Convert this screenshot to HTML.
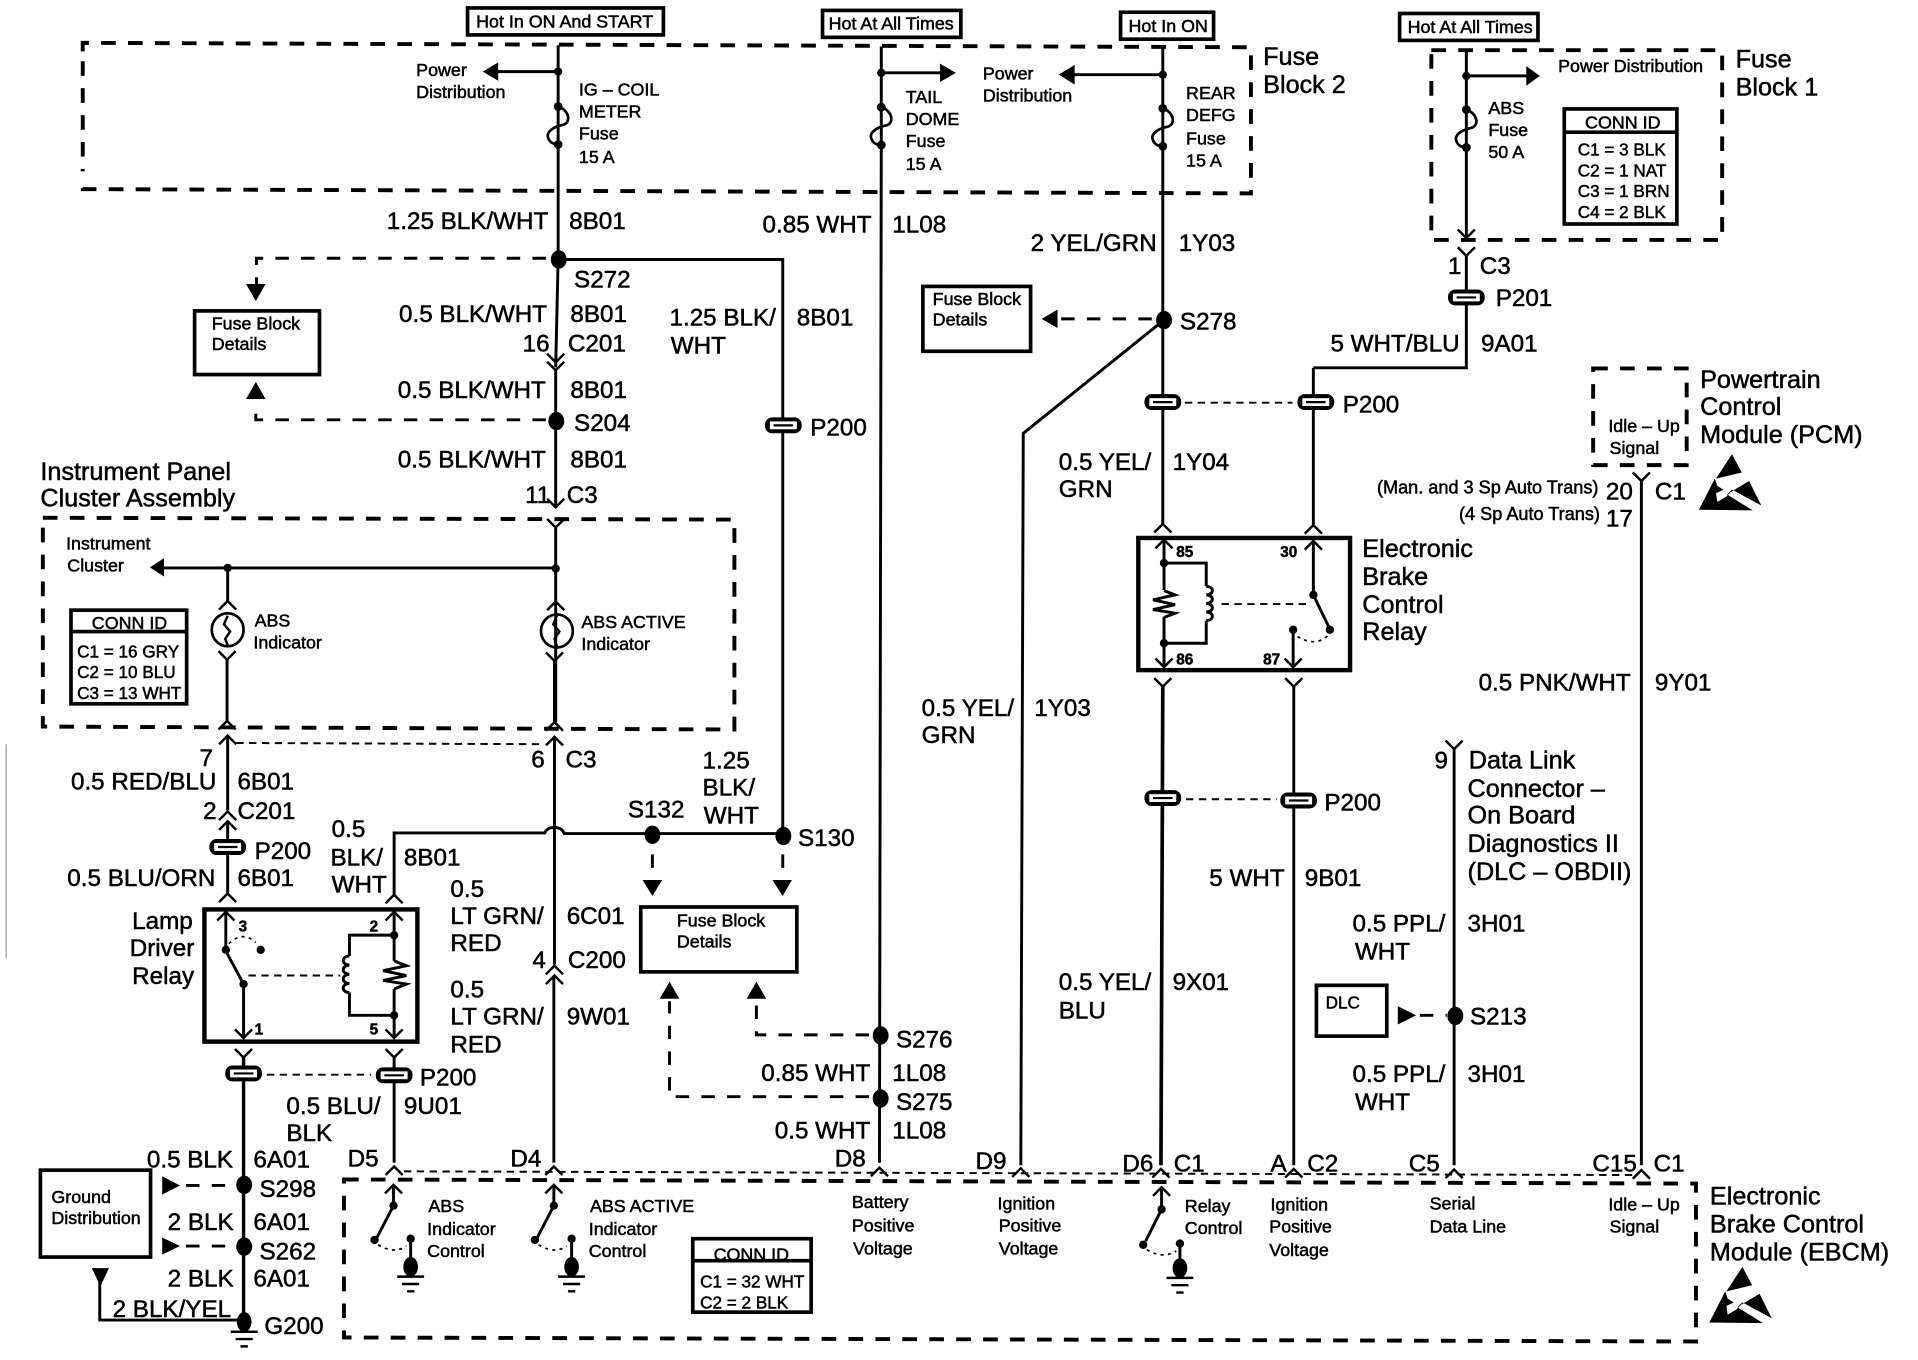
<!DOCTYPE html>
<html><head><meta charset="utf-8"><title>Wiring diagram</title>
<style>
html,body{margin:0;padding:0;background:#fff}
svg{display:block}
text{font-family:"Liberation Sans",sans-serif;fill:#000;stroke:#000;stroke-width:.42}
.b{font-size:19.8px}
.c{font-size:20.6px}
.s{font-size:14.6px}
.t{font-size:14px}
.p{font-size:14.8px}
.n{font-size:12.5px;font-weight:bold}
.w{fill:none;stroke:#000;stroke-width:2.4}
.th{fill:none;stroke:#000;stroke-width:2}
.d{fill:none;stroke:#000;stroke-width:3.2;stroke-dasharray:12 10}
.m{fill:none;stroke:#000;stroke-width:2.4;stroke-dasharray:11 10}
.f{fill:none;stroke:#000;stroke-width:1.6;stroke-dasharray:6 4.5}
.o{fill:none;stroke:#000;stroke-width:1.4;stroke-dasharray:2.5 3.5}
.k{fill:#000;stroke:none}
</style></head><body>
<svg xmlns="http://www.w3.org/2000/svg" width="1918" height="1360" viewBox="0 0 1567 1111.1">
<defs>
<path id="cd" d="M-7,-7 L0,0 L7,-7" fill="none" stroke="#000" stroke-width="2"/>
<path id="cu" d="M-7,7 L0,0 L7,7" fill="none" stroke="#000" stroke-width="2"/>
<ellipse id="sp" rx="6.5" ry="7.5" fill="#000"/>
<circle id="dt" r="3.4" fill="#000"/>
<g id="pl"><rect x="-15" y="-6.500" width="30" height="13" rx="6" fill="#000"/><rect x="-11" y="-3.200" width="22" height="6.400" fill="#fff"/><path d="M-8,0 H8" stroke="#000" stroke-width="1.800"/></g>
<g id="fz"><circle r="3.6" fill="#000"/><circle cy="31" r="3.6" fill="#000"/><path d="M0,0 C9,3 11,13 4,15 C-6,17 -10,22 -8,26 C-7,29 -4,31 0,31" fill="none" stroke="#000" stroke-width="2.2"/></g>
<g id="gd"><ellipse cy="0" rx="6" ry="8" fill="#000"/><path d="M-11,8 H11 M-7,14 H7 M-3,20 H3" stroke="#000" stroke-width="2"/></g>
<g id="esd"><path fill="#000" d="M1415,371 L1402,391 L1423,386 Z"/><path fill="#000" d="M1388,416.5 L1401,391 L1403,397 L1408,400 L1402,403 L1403,410 L1410,406 L1414,402 L1429,393 L1439,413 L1415,400 L1411,404 L1432,417 Z"/></g>
</defs>
<rect width="1567" height="1112" fill="#fff"/>
<path d="M5,608 V783" stroke="#888" stroke-width=".8" fill="none"/>

<!-- dashed boxes -->
<path class="d" d="M67.6,42 V35 L1022,38.6 V158 L67.6,154.5 V146"/>
<path class="d" d="M67.6,50 V140"/>
<path class="d" d="M1169.4,41 L1407,41 V196 H1169.4 Z"/>
<path class="d" d="M35,423 L600,424.5 V596 L35,593.6 Z"/>
<path class="d" d="M1301.6,301 H1378 V380 H1301.6 Z"/>
<path class="d" d="M281,963.6 L1385.6,967 V1096 L281,1092.7 Z"/>

<!-- top label boxes -->
<g fill="none" stroke="#000" stroke-width="3">
<rect x="382" y="6.500" width="160" height="22"/>
<rect x="672" y="8.500" width="113" height="22"/>
<rect x="915.500" y="10" width="76" height="22"/>
<rect x="1143.500" y="11" width="113" height="22"/>
<rect x="159" y="254" width="102" height="52"/>
<rect x="754" y="234" width="88" height="53"/>
<rect x="523.500" y="741" width="127.500" height="53"/>
<rect x="33" y="956" width="90" height="71"/>
<rect x="1075.500" y="805" width="57.500" height="41.500"/>
<rect x="1278" y="89" width="92" height="94"/>
<rect x="58" y="498.500" width="94.500" height="76.500"/>
<rect x="566" y="1012" width="96.700" height="60"/>
<path d="M1278,108 H1370 M58,516 H152 M566,1030 H662"/>
</g>
<g fill="none" stroke="#000" stroke-width="3.600">
<rect x="167" y="743" width="174" height="108"/>
<rect x="930" y="439.500" width="173" height="108"/>
</g>

<!-- wire 1 ignition -->
<path class="w" d="M456,37 V211 L454,300 M454,302 V414 M454,431 V590"/>
<path class="w" d="M456,58.500 H405"/><path class="k" d="M394.500,58.500 L407,51 V66 Z"/>
<use href="#dt" x="456" y="58.500"/><use href="#fz" x="456" y="87"/>
<path class="w" d="M456,212 H639.500 V680"/>
<use href="#sp" x="456.500" y="212"/><use href="#sp" x="454.500" y="344"/>
<use href="#cd" x="454" y="296"/><use href="#cd" x="454" y="302.500"/>
<use href="#cd" x="454" y="414.500"/><use href="#cd" x="454" y="431"/>
<use href="#pl" x="640" y="347.500"/>
<path class="m" d="M446,211 H209.500 V232"/><path class="k" d="M201,232 H217 L209,246 Z"/>
<path class="m" d="M446,343 H209 V335"/><path class="k" d="M209,312 L201,326 H217 Z"/>

<!-- tail -->
<path class="w" d="M720,38 V119 L718.500,950"/>
<path class="w" d="M720,59.500 H770"/><path class="k" d="M781,59.500 L768,52 V67 Z"/>
<use href="#dt" x="720" y="59.500"/><use href="#fz" x="720" y="87.500"/>
<use href="#sp" x="719.500" y="846"/><use href="#sp" x="719.500" y="897.500"/>
<use href="#cu" x="718.500" y="954"/>
<path class="m" d="M710,845.500 H618 V818"/><path class="k" d="M618,802 L610,816 H626 Z"/>
<path class="m" d="M710,896 H547 V818"/><path class="k" d="M547,802 L539,816 H555 Z"/>

<!-- rear defg -->
<path class="w" d="M950,39 V428"/>
<path class="w" d="M950,61 H875"/><path class="k" d="M865,61 L878,53 V69 Z"/>
<use href="#dt" x="950" y="61"/><use href="#fz" x="950" y="88.500"/>
<use href="#sp" x="951" y="261.500"/>
<path class="m" d="M941,260.500 H866"/><path class="k" d="M851,260.500 L864,253 V268 Z"/>
<path class="w" d="M949,263 L836,354 L834,952"/><use href="#cu" x="834" y="954.500"/>
<use href="#pl" x="950" y="328.500"/>
<use href="#cu" x="950" y="428"/>
<path class="f" d="M968,329 H1056"/>
<!-- EBC relay -->
<use href="#cu" x="951" y="441"/>
<path class="w" d="M951,441 V482 M951,504 V545"/>
<path class="w" d="M951,482.500 L960,486 L942,490 L960,494 L942,498 L960,501 L951,504.500"/>
<use href="#dt" x="951" y="460"/><use href="#dt" x="951" y="525.500"/>
<path class="w" d="M951,460 H985.500 V479 M985.500,507 V525.500 H951"/>
<path class="w" d="M985.500,479 a5,3.500 0 1 1 0,7 a5,3.500 0 1 1 0,7 a5,3.500 0 1 1 0,7 a5,3.500 0 1 1 0,7"/>
<use href="#cd" x="951" y="545"/>
<path class="f" d="M998,493.500 H1069"/>
<use href="#cu" x="1073" y="429"/><path class="w" d="M1073,300.500 V429"/>
<use href="#cu" x="1073" y="442"/><path class="w" d="M1073,442 V486 L1086.500,514"/>
<use href="#dt" x="1073" y="486"/><use href="#dt" x="1086.500" y="514.500"/><use href="#dt" x="1056.500" y="514.500"/>
<path class="o" d="M1060,520 Q1075,529 1085,519"/>
<path class="w" d="M1056.500,514 V545"/><use href="#cd" x="1056.500" y="545"/>
<use href="#cd" x="950" y="561"/><use href="#cd" x="1057" y="561"/>
<path class="w" style="stroke-width:3" d="M950,561 L948.500,952"/><use href="#cu" x="948.500" y="955"/>
<path class="w" d="M1057,561 V952"/><use href="#cu" x="1057" y="955"/>
<use href="#pl" x="950" y="652"/><use href="#pl" x="1061" y="654"/>
<path class="f" d="M969,653 H1043"/>

<!-- fuse block 1 -->
<path class="w" d="M1198,40 V194"/>
<path class="w" d="M1198,62 H1250"/><path class="k" d="M1258,62 L1247,54 V70 Z"/>
<use href="#dt" x="1198" y="62"/><use href="#fz" x="1198" y="89.500"/>
<use href="#cd" x="1198" y="194.500"/><use href="#cd" x="1198" y="209"/>
<path class="w" d="M1198,209 V300.500 H1073"/>
<use href="#pl" x="1198" y="243"/><use href="#pl" x="1075" y="328.500"/>

<!-- PCM line -->
<use href="#cd" x="1341" y="393"/><path class="w" d="M1341,393 V952"/><use href="#cu" x="1341" y="956"/>
<!-- DLC -->
<use href="#cd" x="1188" y="612"/><path class="w" d="M1188,612 V952"/><use href="#cu" x="1188" y="955.500"/>
<use href="#sp" x="1189" y="830"/>
<path class="k" d="M1142,822 L1157,829.500 L1142,837 Z"/><path class="m" d="M1160,829.500 H1182"/>

<!-- cluster -->
<path class="w" d="M454,464 H130"/><path class="k" d="M122.500,463.500 L134,456 V471 Z"/>
<use href="#dt" x="454" y="464.500"/><use href="#dt" x="186" y="464"/>
<path class="w" d="M186,464 V491"/><use href="#cu" x="186" y="491"/>
<ellipse cx="186" cy="514.500" rx="13" ry="13.500" fill="none" stroke="#000" stroke-width="2.200"/>
<path class="th" d="M186,503 L183,510 L188,516 L184,522 L186,527"/>
<path class="w" d="M185.500,539 V590"/><use href="#cd" x="185.500" y="539"/><use href="#cu" x="185.500" y="589"/>
<use href="#cu" x="454" y="491.500"/>
<ellipse cx="455" cy="515.500" rx="13" ry="13.500" fill="none" stroke="#000" stroke-width="2.200"/>
<path class="th" d="M455,503 L452,510 L457,516 L453,522 L455,528"/>
<path class="w" d="M453,540 V590"/><use href="#cd" x="453" y="540"/><use href="#cu" x="453" y="590"/>

<!-- below cluster -->
<use href="#cu" x="186" y="601"/><use href="#cu" x="453" y="602"/>
<path class="f" d="M193,607 L445,608"/>
<path class="w" d="M186,601 V662"/><use href="#cu" x="186" y="663"/>
<use href="#cu" x="186" y="671"/><path class="w" d="M186,671 V730"/><use href="#cu" x="186" y="730"/>
<use href="#pl" x="186" y="692"/>
<path class="w" d="M453,602 V788"/>
<path class="w" d="M322,731 V680.500 H445 Q447,676 453,676 Q459,676 461,681 H639"/>
<use href="#cu" x="322" y="731"/>
<use href="#sp" x="533" y="682"/><use href="#sp" x="640" y="683"/>
<use href="#cu" x="453" y="789"/><use href="#cu" x="453" y="797"/>
<path class="w" d="M452.500,797 V950"/><use href="#cu" x="452.500" y="953"/>
<path class="m" d="M533,698 V710"/><path class="k" d="M525,719 H541 L533,732 Z"/>
<path class="m" d="M639.500,698 V710"/><path class="k" d="M631,719 H647 L639.500,732 Z"/>

<!-- lamp relay -->
<use href="#cu" x="184.500" y="745"/><path class="w" d="M184.500,745 V777 L199,804"/>
<use href="#dt" x="184.500" y="776"/><use href="#dt" x="213" y="776"/><use href="#dt" x="199" y="804"/>
<path class="o" d="M187,771 Q198,760 209,770"/>
<path class="w" d="M199,804 V848"/><use href="#cd" x="199" y="848"/>
<use href="#cu" x="322" y="745"/><path class="w" d="M322,745 V785 M322,808 V848"/><use href="#cd" x="322" y="848"/>
<path class="w" d="M322,785 L332,789 L313,793 L332,797 L313,801 L332,804 L322,808"/>
<use href="#dt" x="322" y="764"/><use href="#dt" x="322" y="829.500"/>
<path class="w" d="M322,764 H285.500 V781 M285.500,811 V829.500 H322"/>
<path class="w" d="M285.500,781 a5,3.700 0 1 0 0,7.500 a5,3.700 0 1 0 0,7.500 a5,3.700 0 1 0 0,7.500 a5,3.700 0 1 0 0,7.500"/>
<path class="f" d="M203,797 H278"/>
<use href="#cd" x="199" y="864"/><use href="#cd" x="322" y="864"/>
<path class="w" style="stroke-width:2.800" d="M199,864 V1079"/>
<path class="w" d="M322,864 V950"/><use href="#cu" x="322" y="953"/>
<use href="#pl" x="199" y="877"/><use href="#pl" x="322" y="878.500"/>
<path class="f" d="M218,878 H303"/>
<use href="#sp" x="199.500" y="968"/><use href="#sp" x="199.500" y="1018.500"/>
<path class="k" d="M132.500,961 L147,968.500 L132.500,976 Z"/><path class="m" d="M152,968.500 H190"/>
<path class="k" d="M132.500,1011 L147,1018 L132.500,1025 Z"/><path class="m" d="M152,1018 H190"/>
<path class="k" d="M75,1036 H89 L82,1051 Z"/><path class="w" d="M81.500,1040 V1078.500 H199"/>
<use href="#gd" x="199.500" y="1080"/>

<!-- thin dashed over EBCM -->
<path class="f" d="M330,957 L1335,960"/>

<!-- EBCM switches -->
<use href="#cu" x="321.500" y="968"/><path class="w" d="M321.500,968 V985 L308,1011"/>
<use href="#dt" x="321.500" y="985"/><use href="#dt" x="306" y="1013"/><use href="#dt" x="335.500" y="1012"/>
<path class="o" d="M309,1017 Q322,1025 332,1018"/><path class="w" d="M335.500,1012 V1035"/><use href="#gd" x="335.500" y="1035"/>
<use href="#cu" x="452.500" y="968"/><path class="w" d="M452.500,968 V985 L439,1011"/>
<use href="#dt" x="452.500" y="985"/><use href="#dt" x="437" y="1013"/><use href="#dt" x="467" y="1012"/>
<path class="o" d="M440,1017 Q453,1025 463,1018"/><path class="w" d="M467,1012 V1035"/><use href="#gd" x="467" y="1035"/>
<use href="#cu" x="949" y="970"/><path class="w" d="M949,970 V988 L936,1014"/>
<use href="#dt" x="949" y="988"/><use href="#dt" x="934" y="1017"/><use href="#dt" x="964" y="1016"/>
<path class="o" d="M937,1021 Q950,1029 961,1022"/><path class="w" d="M964,1016 V1036"/><use href="#gd" x="964" y="1036"/>

<use href="#esd"/><use href="#esd" transform="translate(8.500,664)"/>

<!-- small text -->
<g>
<text class="s" x="389" y="22.500">Hot In ON And START</text>
<text class="s" x="677" y="24">Hot At All Times</text>
<text class="s" x="922" y="26">Hot In ON</text>
<text class="s" x="1150" y="27">Hot At All Times</text>
<text class="s" x="340" y="62">Power</text><text class="s" x="340" y="80">Distribution</text>
<text class="s" x="473" y="78">IG – COIL</text><text class="s" x="473" y="96">METER</text><text class="s" x="473" y="114">Fuse</text><text class="s" x="473" y="133">15 A</text>
<text class="s" x="740" y="84">TAIL</text><text class="s" x="740" y="102">DOME</text><text class="s" x="740" y="120">Fuse</text><text class="s" x="740" y="139">15 A</text>
<text class="s" x="803" y="65">Power</text><text class="s" x="803" y="83">Distribution</text>
<text class="s" x="969" y="81">REAR</text><text class="s" x="969" y="99">DEFG</text><text class="s" x="969" y="118">Fuse</text><text class="s" x="969" y="136">15 A</text>
<text class="s" x="1273" y="59">Power Distribution</text>
<text class="s" x="1216" y="93">ABS</text><text class="s" x="1216" y="111">Fuse</text><text class="s" x="1216" y="129">50 A</text>
<text class="s" x="1295" y="105">CONN ID</text>
<text class="t" x="1289" y="127">C1 = 3 BLK</text><text class="t" x="1289" y="144">C2 = 1 NAT</text><text class="t" x="1289" y="161">C3 = 1 BRN</text><text class="t" x="1289" y="178">C4 = 2 BLK</text>
<text class="s" x="173" y="269">Fuse Block</text><text class="s" x="173" y="286">Details</text>
<text class="s" x="762" y="249">Fuse Block</text><text class="s" x="762" y="266">Details</text>
<text class="s" x="553" y="757">Fuse Block</text><text class="s" x="553" y="774">Details</text>
<text class="s" x="54" y="449">Instrument</text><text class="s" x="55" y="467">Cluster</text>
<text class="s" x="208" y="512">ABS</text><text class="s" x="207" y="530">Indicator</text>
<text class="s" x="475" y="513">ABS ACTIVE</text><text class="s" x="475" y="531">Indicator</text>
<text class="s" x="75" y="514">CONN ID</text>
<text class="t" x="63" y="537">C1 = 16 GRY</text><text class="t" x="63" y="554">C2 = 10 BLU</text><text class="t" x="63" y="571">C3 = 13 WHT</text>
<text class="s" x="1314" y="353">Idle – Up</text><text class="s" x="1315" y="371">Signal</text>
<text class="p" x="1125" y="403">(Man. and 3 Sp Auto Trans)</text><text class="p" x="1192" y="425">(4 Sp Auto Trans)</text>
<text class="s" x="42" y="983">Ground</text><text class="s" x="42" y="1000">Distribution</text>
<text class="t" x="1083" y="824">DLC</text>
<text class="s" x="350" y="990">ABS</text><text class="s" x="349" y="1009">Indicator</text><text class="s" x="349" y="1027">Control</text>
<text class="s" x="482" y="990">ABS ACTIVE</text><text class="s" x="481" y="1009">Indicator</text><text class="s" x="481" y="1027">Control</text>
<text class="s" x="696" y="987">Battery</text><text class="s" x="696" y="1006">Positive</text><text class="s" x="697" y="1025">Voltage</text>
<text class="s" x="815" y="988">Ignition</text><text class="s" x="816" y="1006">Positive</text><text class="s" x="816" y="1025">Voltage</text>
<text class="s" x="968" y="990">Relay</text><text class="s" x="968" y="1008">Control</text>
<text class="s" x="1038" y="989">Ignition</text><text class="s" x="1037" y="1007">Positive</text><text class="s" x="1037" y="1026">Voltage</text>
<text class="s" x="1168" y="988">Serial</text><text class="s" x="1168" y="1007">Data Line</text>
<text class="s" x="1314" y="989">Idle – Up</text><text class="s" x="1315" y="1007">Signal</text>
<text class="s" x="583" y="1030">CONN ID</text>
<text class="t" x="572" y="1052">C1 = 32 WHT</text><text class="t" x="572" y="1069">C2 =  2 BLK</text>
<text class="n" x="961" y="455">85</text><text class="n" x="961" y="543">86</text><text class="n" x="1046" y="455">30</text><text class="n" x="1032" y="543">87</text>
<text class="n" x="195" y="761">3</text><text class="n" x="302" y="761">2</text><text class="n" x="208" y="845">1</text><text class="n" x="302" y="845">5</text>
</g>

<!-- big text -->
<g>
<text class="b" x="316" y="187">1.25 BLK/WHT</text><text class="b" x="465" y="187">8B01</text>
<text class="b" x="469" y="235">S272</text>
<text class="b" x="326" y="263">0.5 BLK/WHT</text><text class="b" x="466" y="263">8B01</text>
<text class="b" x="427" y="287">16</text><text class="b" x="464" y="287">C201</text>
<text class="b" x="547" y="266">1.25 BLK/</text><text class="b" x="548" y="289">WHT</text><text class="b" x="651" y="266">8B01</text>
<text class="b" x="325" y="325">0.5 BLK/WHT</text><text class="b" x="466" y="325">8B01</text>
<text class="b" x="469" y="352">S204</text><text class="b" x="662" y="356">P200</text>
<text class="b" x="325" y="382">0.5 BLK/WHT</text><text class="b" x="466" y="382">8B01</text>
<text class="b" x="429" y="411">11</text><text class="b" x="463" y="411">C3</text>
<text class="c" x="33" y="392">Instrument Panel</text><text class="c" x="33" y="414">Cluster Assembly</text>
<text class="b" x="623" y="190">0.85 WHT</text><text class="b" x="729" y="190">1L08</text>
<text class="b" x="842" y="205">2 YEL/GRN</text><text class="b" x="963" y="205">1Y03</text>
<text class="b" x="964" y="269">S278</text>
<text class="b" x="1087" y="287">5 WHT/BLU</text><text class="b" x="1210" y="287">9A01</text>
<text class="b" x="1183" y="224">1</text><text class="b" x="1209" y="224">C3</text>
<text class="b" x="1222" y="250">P201</text><text class="b" x="1097" y="337">P200</text>
<text class="b" x="865" y="384">0.5 YEL/</text><text class="b" x="865" y="406">GRN</text><text class="b" x="958" y="384">1Y04</text>
<text class="c" x="1113" y="455">Electronic</text><text class="c" x="1113" y="478">Brake</text><text class="c" x="1113" y="501">Control</text><text class="c" x="1113" y="523">Relay</text>
<text class="c" x="1389" y="317">Powertrain</text><text class="c" x="1389" y="339">Control</text><text class="c" x="1389" y="362">Module (PCM)</text>
<text class="c" x="1032" y="53">Fuse</text><text class="c" x="1032" y="76">Block 2</text>
<text class="c" x="1418" y="55">Fuse</text><text class="c" x="1418" y="78">Block 1</text>
<text class="b" x="1312" y="408">20</text><text class="b" x="1352" y="408">C1</text><text class="b" x="1312" y="430">17</text>
<text class="b" x="1208" y="564">0.5 PNK/WHT</text><text class="b" x="1352" y="564">9Y01</text>
<text class="b" x="1172" y="628">9</text><text class="c" x="1200" y="628">Data Link</text><text class="c" x="1199" y="651">Connector –</text><text class="c" x="1199" y="673">On Board</text><text class="c" x="1199" y="696">Diagnostics II</text><text class="c" x="1199" y="719">(DLC – OBDII)</text>
<text class="b" x="1082" y="662">P200</text>
<text class="b" x="988" y="724">5 WHT</text><text class="b" x="1066" y="724">9B01</text>
<text class="b" x="1105" y="761">0.5 PPL/</text><text class="b" x="1107" y="784">WHT</text><text class="b" x="1199" y="761">3H01</text>
<text class="b" x="1201" y="837">S213</text>
<text class="b" x="1105" y="884">0.5 PPL/</text><text class="b" x="1107" y="907">WHT</text><text class="b" x="1199" y="884">3H01</text>
<text class="b" x="865" y="809">0.5 YEL/</text><text class="b" x="865" y="832">BLU</text><text class="b" x="958" y="809">9X01</text>
<text class="b" x="753" y="585">0.5 YEL/</text><text class="b" x="753" y="607">GRN</text><text class="b" x="845" y="585">1Y03</text>
<text class="b" x="163" y="626">7</text><text class="b" x="434" y="627">6</text><text class="b" x="462" y="627">C3</text>
<text class="b" x="58" y="645">0.5 RED/BLU</text><text class="b" x="194" y="645">6B01</text>
<text class="b" x="166" y="669">2</text><text class="b" x="194" y="669">C201</text>
<text class="b" x="208" y="702">P200</text>
<text class="b" x="55" y="724">0.5 BLU/ORN</text><text class="b" x="194" y="724">6B01</text>
<text class="b" x="271" y="684">0.5</text><text class="b" x="270" y="707">BLK/</text><text class="b" x="271" y="729">WHT</text><text class="b" x="330" y="707">8B01</text>
<text class="b" x="513" y="668">S132</text>
<text class="b" x="574" y="628">1.25</text><text class="b" x="574" y="650">BLK/</text><text class="b" x="575" y="673">WHT</text>
<text class="b" x="652" y="691">S130</text>
<text class="b" x="368" y="733">0.5</text><text class="b" x="368" y="755">LT GRN/</text><text class="b" x="368" y="777">RED</text><text class="b" x="463" y="755">6C01</text>
<text class="b" x="435" y="791">4</text><text class="b" x="464" y="791">C200</text>
<text class="b" x="368" y="815">0.5</text><text class="b" x="368" y="837">LT GRN/</text><text class="b" x="368" y="860">RED</text><text class="b" x="463" y="837">9W01</text>
<text class="b" x="108" y="759">Lamp</text><text class="b" x="106" y="781">Driver</text><text class="b" x="108" y="804">Relay</text>
<text class="b" x="343" y="887">P200</text>
<text class="b" x="234" y="910">0.5 BLU/</text><text class="b" x="234" y="932">BLK</text><text class="b" x="330" y="910">9U01</text>
<text class="b" x="120" y="954">0.5 BLK</text><text class="b" x="207" y="954">6A01</text>
<text class="b" x="137" y="1005">2 BLK</text><text class="b" x="207" y="1005">6A01</text>
<text class="b" x="137" y="1051">2 BLK</text><text class="b" x="207" y="1051">6A01</text>
<text class="b" x="92" y="1076">2 BLK/YEL</text><text class="b" x="216" y="1090">G200</text>
<text class="b" x="212" y="978">S298</text><text class="b" x="212" y="1029">S262</text>
<text class="b" x="284" y="953">D5</text><text class="b" x="417" y="953">D4</text>
<text class="b" x="732" y="856">S276</text>
<text class="b" x="622" y="883">0.85 WHT</text><text class="b" x="729" y="883">1L08</text>
<text class="b" x="732" y="907">S275</text>
<text class="b" x="633" y="930">0.5 WHT</text><text class="b" x="729" y="930">1L08</text>
<text class="b" x="682" y="953">D8</text><text class="b" x="797" y="955">D9</text><text class="b" x="917" y="957">D6</text><text class="b" x="959" y="957">C1</text>
<text class="b" x="1038" y="957">A</text><text class="b" x="1068" y="957">C2</text><text class="b" x="1151" y="957">C5</text><text class="b" x="1301" y="957">C15</text><text class="b" x="1351" y="957">C1</text>
<text class="c" x="1397" y="984">Electronic</text><text class="c" x="1397" y="1007">Brake Control</text><text class="c" x="1397" y="1030">Module (EBCM)</text>
</g>
</svg>
</body></html>
